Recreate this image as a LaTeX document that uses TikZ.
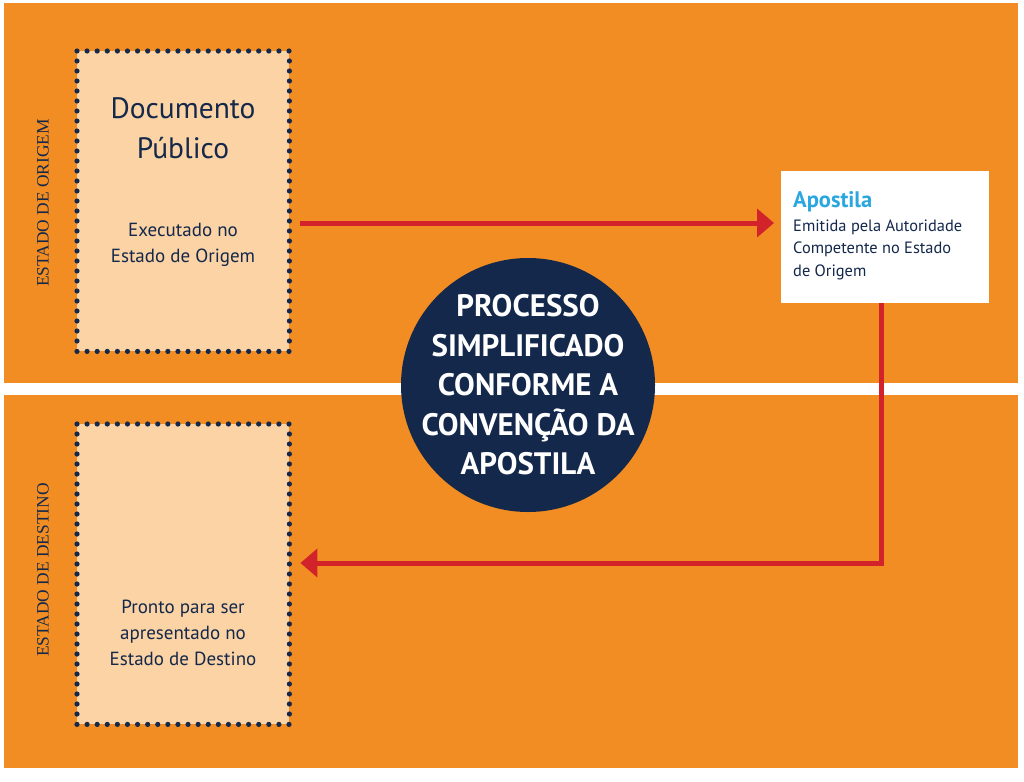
\documentclass[tikz,border=0pt]{standalone}
\usepackage{fontspec}
\setmainfont{PT Sans}
\newfontfamily\sidefont{Liberation Serif}
\usetikzlibrary{positioning, arrows.meta}

\definecolor{bandorange}{HTML}{F18D22}
\definecolor{docpeach}{HTML}{FBD3A4}
\definecolor{inknavy}{HTML}{14284B}
\definecolor{flowred}{HTML}{D2232A}
\definecolor{apocyan}{HTML}{2AA7DF}

\tikzset{
  band/.style={fill=bandorange, draw=none},
  docbox/.style={fill=docpeach, draw=none, minimum width=212pt, minimum height=300pt,
    inner sep=0pt, anchor=north west},
  dotmark/.style={fill=inknavy},
  doctext/.style={text=inknavy, align=center, inner sep=0pt},
  sidelabel/.style={text=inknavy, rotate=90, inner sep=0pt, font=\sidefont\fontsize{17.4}{17.4}\selectfont},
  flow/.style={draw=flowred, line width=5pt, -{Triangle[length=17pt,width=28pt]}},
}

\begin{document}
\begin{tikzpicture}[x=1pt, y=-1pt]
        \useasboundingbox (0,0) rectangle (1024,781);

        % Faixas
        \fill[band] (4,3) rectangle (1018,383);
        \fill[band] (4,395) rectangle (1018,768);

        % Estados
        \node[sidelabel] (origem) at (43,203) {ESTADO DE ORIGEM};
        \node[sidelabel] (destino) at (43,570) {ESTADO DE DESTINO};

        % Documentos
        \node[docbox] (docorig) at (77,51) {};
        \node[docbox] (docdest) at (77,424) {};

        % Moldura pontilhada
        \foreach \docnode in {docorig, docdest} {
            \foreach \i in {0,...,21} {
                \fill[dotmark] ([xshift=\i*10.095pt]\docnode.north west) circle (2.6pt);
                \fill[dotmark] ([xshift=\i*10.095pt]\docnode.south west) circle (2.6pt);
            }
            \foreach \j in {1,...,29} {
                \fill[dotmark] ([yshift=-\j*10pt]\docnode.north west) circle (2.6pt);
                \fill[dotmark] ([yshift=-\j*10pt]\docnode.north east) circle (2.6pt);
            }
        }

        \node[doctext, font=\fontsize{29.5}{40}\selectfont] (doctitle) at (183,128) {Documento\\Público};
        \node[doctext, font=\fontsize{19}{26}\selectfont] (docexec) at (183,245) {Executado no\\Estado de Origem};
        \node[doctext, font=\fontsize{19}{26}\selectfont] (docready) at (183,633) {Pronto para ser\\apresentado no\\Estado de Destino};

        % Apostila
        \node[fill=white, minimum width=208pt, minimum height=132pt, anchor=north west] (apostila) at (781,171) {};
        \node[text=apocyan, anchor=west, inner sep=0pt, font=\bfseries\fontsize{22.5}{22.5}\selectfont] (apotitle) at (793,202) {Apostila};
        \node[text=inknavy, align=left, inner sep=0pt, font=\fontsize{16.4}{22.5}\selectfont,
          below=7pt of apotitle.south west, anchor=north west] (apobody) {Emitida pela Autoridade\\Competente no Estado\\de Origem};

        % Processo
        \node[circle, fill=inknavy, minimum size=254pt, inner sep=0pt] (processo) at (528,385) {};
        \node[text=white, align=center, inner sep=0pt,
          font=\bfseries\fontsize{31}{39.5}\selectfont] (processotext) at (processo.center)
          {PROCESSO\\SIMPLIFICADO\\CONFORME A\\CONVENÇÃO DA\\APOSTILA};

        % Setas
        \coordinate (toprow) at (0,223);
        \coordinate (botrow) at (0,563);
        \draw[flow] ([xshift=11pt]docorig.east |- toprow) -- ([xshift=-7pt]apostila.west |- toprow);
        \draw[flow] ([xshift=-4pt]apostila.south) |- ([xshift=11pt]docdest.east |- botrow);
\end{tikzpicture}
\end{document}
